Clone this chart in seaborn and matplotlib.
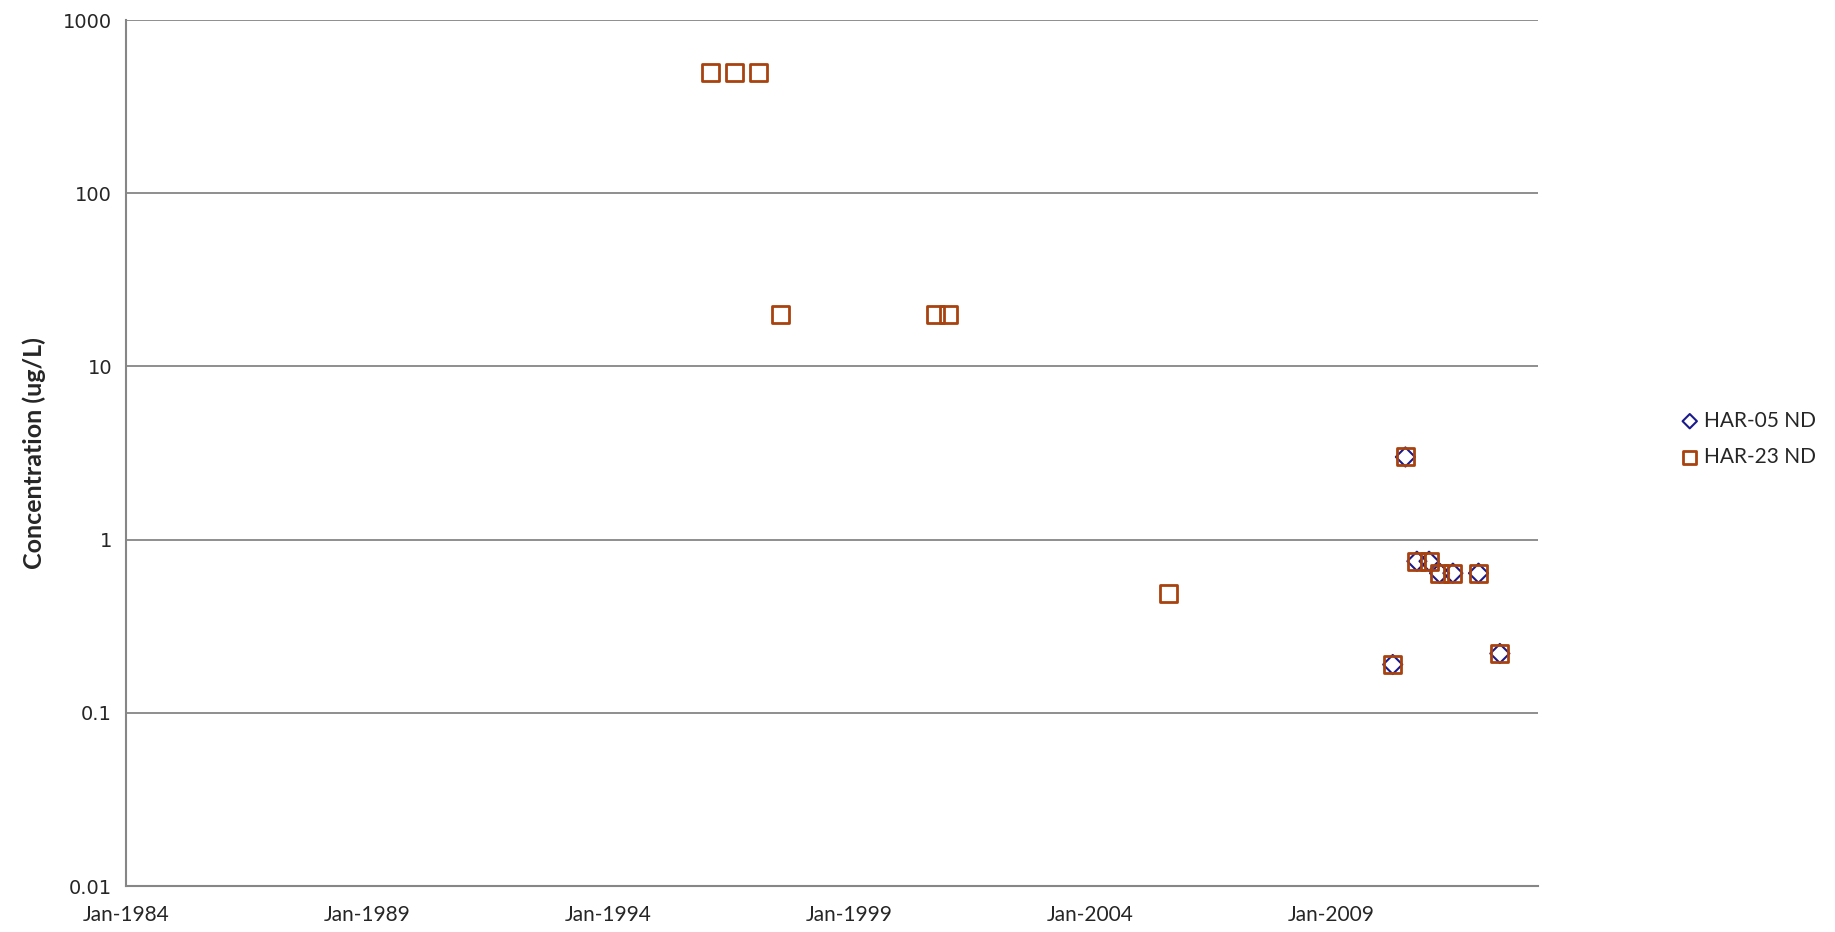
#!/usr/bin/env python3

import pandas as pd
import seaborn as sns
import matplotlib.pyplot as plt
import matplotlib.dates as mdates
from matplotlib.ticker import FixedLocator, FixedFormatter, NullLocator

# HAR-05 non-detects
HAR05_DATES = ["2010-04-15", "2010-07-20", "2010-10-15", "2011-01-15",
               "2011-04-05", "2011-07-15", "2012-01-25", "2012-07-05"]
HAR05_CONC = [0.19, 3.0, 0.75, 0.75, 0.64, 0.64, 0.64, 0.22]

# HAR-23 non-detects
HAR23_DATES = ["1996-02-20", "1996-08-20", "1997-02-15", "1997-07-30",
               "2000-10-20", "2001-01-25", "2005-08-20",
               "2010-04-15", "2010-07-20", "2010-10-15", "2011-01-15",
               "2011-04-05", "2011-07-15", "2012-01-25", "2012-07-05"]
HAR23_CONC = [500, 500, 500, 20, 20, 20, 0.49,
              0.19, 3.0, 0.75, 0.75, 0.64, 0.64, 0.64, 0.22]

Y_TICKS = [0.01, 0.1, 1, 10, 100, 1000]
Y_LABELS = ["0.01", "0.1", "1", "10", "100", "1000"]
X_MAJOR_YEARS = [1984, 1989, 1994, 1999, 2004, 2009]

GRID = "#868686"


def main():
    sns.set_style("white")
    plt.rcParams["font.family"] = ["Lato", "DejaVu Sans"]

    df05 = pd.DataFrame({"date": pd.to_datetime(HAR05_DATES), "conc": HAR05_CONC})
    df23 = pd.DataFrame({"date": pd.to_datetime(HAR23_DATES), "conc": HAR23_CONC})

    fig = plt.figure(figsize=(18.35, 9.32), dpi=100)
    ax = fig.add_axes([126 / 1835, 1 - 886 / 932, (1538 - 126) / 1835, (886 - 20) / 932])

    sns.scatterplot(ax=ax, data=df05, x="date", y="conc", marker="D", s=95,
                    color="#1a1a8c", facecolor="none", edgecolor="#1a1a8c",
                    linewidth=1.5, label="HAR-05 ND", zorder=3)
    sns.scatterplot(ax=ax, data=df23, x="date", y="conc", marker="s", s=150,
                    color="#a8420f", facecolor="none", edgecolor="#a8420f",
                    linewidth=2.0, label="HAR-23 ND", zorder=3)

    ax.set_yscale("log")
    ax.set_ylim(0.01, 1000)
    ax.yaxis.set_major_locator(FixedLocator(Y_TICKS))
    ax.yaxis.set_major_formatter(FixedFormatter(Y_LABELS))
    ax.yaxis.set_minor_locator(NullLocator())
    for t in Y_TICKS[1:]:
        ax.axhline(t, color=GRID, linewidth=1.3, zorder=1)

    ax.set_xlim(pd.Timestamp("1984-01-01"), pd.Timestamp("2013-04-20"))
    ax.xaxis.set_major_locator(FixedLocator(
        [mdates.date2num(pd.Timestamp(f"{y}-01-01")) for y in X_MAJOR_YEARS]))
    ax.xaxis.set_major_formatter(mdates.DateFormatter("%b-%Y"))
    ax.xaxis.set_minor_locator(mdates.YearLocator(1))

    for side in ["top", "right"]:
        ax.spines[side].set_visible(False)
    for side in ["left", "bottom"]:
        ax.spines[side].set_color(GRID)
        ax.spines[side].set_linewidth(1.5)

    ax.tick_params(axis="x", which="major", direction="inout", length=12,
                   width=1, color=GRID, labelsize=15, pad=8)
    ax.tick_params(axis="x", which="minor", direction="in", length=6,
                   width=1, color=GRID)
    ax.tick_params(axis="y", which="major", direction="out", length=6,
                   width=1, color=GRID, pad=4, labelsize=14,
                   labelfontfamily="DejaVu Sans")

    ax.set_xlabel("")
    ax.set_ylabel("Concentration (ug/L)", fontsize=18, fontweight="bold", labelpad=12)

    ax.legend(loc="center left", bbox_to_anchor=(1671 / 1835, 1 - 439 / 932),
              bbox_transform=fig.transFigure, frameon=False, fontsize=15,
              markerscale=0.75, handlelength=1.0, handletextpad=0.2,
              labelspacing=0.8, borderaxespad=0)

    fig.savefig("out.png", dpi=100)


if __name__ == "__main__":
    main()
